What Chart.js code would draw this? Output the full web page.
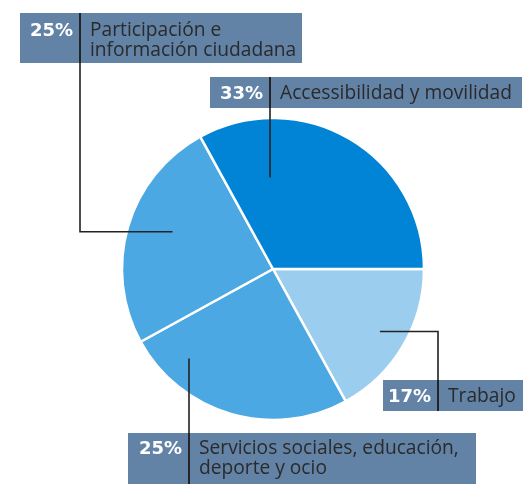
<!DOCTYPE html>
<html>
<head>
<meta charset="utf-8">
<script src="https://cdn.jsdelivr.net/npm/chart.js@4.4.1/dist/chart.umd.min.js"></script>
<style>
  html, body { margin: 0; padding: 0; background: #ffffff; }
  #wrap { width: 525px; height: 484px; position: relative; }
</style>
</head>
<body>
<div id="wrap"><canvas id="c" width="525" height="484"></canvas></div>
<script>
// ---- data (clockwise from 3 o'clock) ----
const categories = ["Trabajo", "Servicios sociales, educación, deporte y ocio", "Participación e información ciudadana", "Accessibilidad y movilidad"];
const values = [17, 25, 25, 33];
const pctLabels = ["17%", "25%", "25%", "33%"];
const labelLines = [["Trabajo"], ["Servicios sociales, educación,", "deporte y ocio"], ["Participación e", "información ciudadana"], ["Accessibilidad y movilidad"]];
const colors = ["#9bcdee", "#4ca8e2", "#4ca8e2", "#0284d6"];

// ---- annotation layout (callout boxes + leader anchors) ----
const callouts = [
  { box: [383, 380, 140, 31], divX: 438, baselines: [402], anchorT: 0.495, anchorR: 0.82 },
  { box: [128, 433, 348, 51], divX: 189, baselines: [454, 474], anchorT: 0.80, anchorR: 0.82 },
  { box: [20, 13, 282, 50], divX: 80, baselines: [36, 56], anchorT: 0.546, anchorR: 0.71 },
  { box: [210, 77, 312, 31], divX: 270, baselines: [99], anchorT: 0.226, anchorR: 0.61 }
];

const LABEL_FONT = "19.2px 'Open Sans', Roboto, sans-serif";
const PCT_FONT = "bold 18px 'DejaVu Sans', sans-serif";

const calloutPlugin = {
  id: 'callouts',
  afterDatasetsDraw(chart) {
    const ctx = chart.ctx;
    const arcs = chart.getDatasetMeta(0).data;
    ctx.save();
    arcs.forEach((arc, i) => {
      const c = callouts[i];
      const [bx, by, bw, bh] = c.box;
      const a = arc.startAngle + (arc.endAngle - arc.startAngle) * c.anchorT;
      const ax = arc.x + Math.cos(a) * arc.outerRadius * c.anchorR;
      const ay = arc.y + Math.sin(a) * arc.outerRadius * c.anchorR;
      ctx.fillStyle = '#6282a6';
      ctx.fillRect(bx, by, bw, bh);
      const boxEdgeY = ay < by ? by + bh : by;
      ctx.strokeStyle = '#222222';
      ctx.lineWidth = 1.6;
      ctx.beginPath();
      ctx.moveTo(ax, ay);
      ctx.lineTo(c.divX, ay);
      ctx.lineTo(c.divX, boxEdgeY);
      ctx.stroke();
      ctx.beginPath();
      ctx.moveTo(c.divX, by);
      ctx.lineTo(c.divX, by + bh);
      ctx.stroke();
      ctx.textBaseline = 'alphabetic';
      ctx.fillStyle = '#ffffff';
      ctx.font = PCT_FONT;
      ctx.textAlign = 'right';
      ctx.fillText(pctLabels[i], c.divX - 7, c.baselines[0]);
      ctx.fillStyle = '#2a2a2a';
      ctx.font = LABEL_FONT;
      ctx.textAlign = 'left';
      labelLines[i].forEach((ln, k) => ctx.fillText(ln, c.divX + 10, c.baselines[k]));
    });
    ctx.restore();
  }
};

new Chart(document.getElementById('c'), {
  type: 'pie',
  data: {
    labels: categories,
    datasets: [{
      data: values,
      backgroundColor: colors,
      borderColor: '#ffffff',
      borderWidth: 2.5,
      hoverOffset: 0
    }]
  },
  options: {
    responsive: false,
    animation: false,
    rotation: 90,
    radius: 151,
    layout: { padding: { left: 123, right: 102, top: 119, bottom: 65 } },
    plugins: { legend: { display: false }, tooltip: { enabled: false } },
    events: []
  },
  plugins: [calloutPlugin]
});
</script>
</body>
</html>
